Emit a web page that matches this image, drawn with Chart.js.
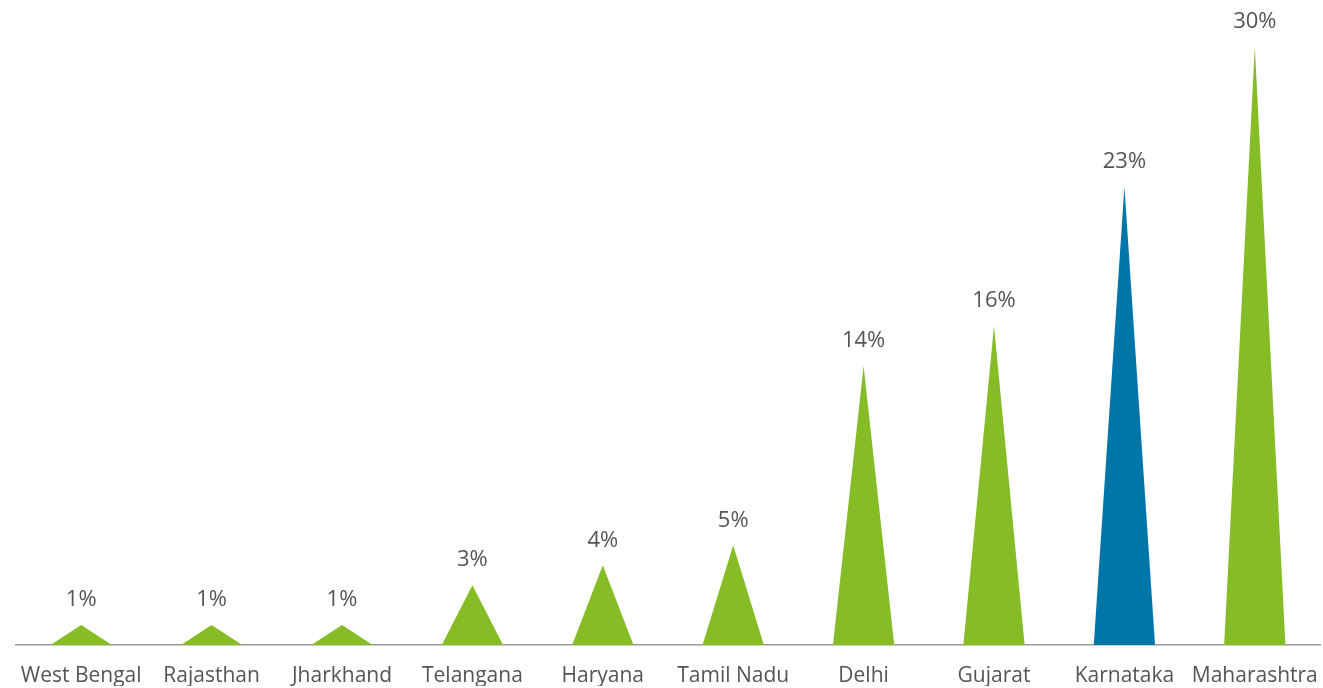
<!doctype html>
<html lang="en">
<head>
<meta charset="utf-8">
<title>Share by state</title>
<script src="https://cdn.jsdelivr.net/npm/chart.js@4/dist/chart.umd.min.js"></script>
<style>
  html, body { margin: 0; padding: 0; background: #fff; }
  .wrapper { width: 1323px; height: 688px; }
</style>
</head>
<body>
<div class="wrapper">
  <canvas id="canvas" width="1323" height="688"></canvas>
</div>
<script>
var states = ["West Bengal", "Rajasthan", "Jharkhand", "Telangana", "Haryana", "Tamil Nadu", "Delhi", "Gujarat", "Karnataka", "Maharashtra"];
var shares = [1, 1, 1, 3, 4, 5, 14, 16, 23, 30];
var highlight = "Karnataka";

var green = "#86BC25";
var blue = "#0076A8";
var colors = states.map(s => s === highlight ? blue : green);

// bars are laid out by chart.js but painted as triangles
var trianglePlugin = {
  id: "triangles",
  afterDatasetsDraw(chart) {
    var ctx = chart.ctx;
    var meta = chart.getDatasetMeta(0);
    ctx.save();
    meta.data.forEach((bar, i) => {
      var half = bar.width / 2;
      ctx.beginPath();
      ctx.moveTo(bar.x - half, bar.base);
      ctx.lineTo(bar.x, bar.y);
      ctx.lineTo(bar.x + half, bar.base);
      ctx.closePath();
      ctx.fillStyle = colors[i];
      ctx.fill();

      ctx.fillStyle = "#555";
      ctx.font = "22px 'Open Sans'";
      ctx.textAlign = "center";
      ctx.textBaseline = "middle";
      ctx.fillText(shares[i] + "%", bar.x, bar.y - 25);
    });
    ctx.restore();
  }
};

var ctx = document.getElementById("canvas").getContext("2d");
new Chart(ctx, {
  type: "bar",
  data: {
    labels: states,
    datasets: [{
      data: shares,
      backgroundColor: "rgba(0,0,0,0)",
      borderWidth: 0,
      categoryPercentage: 1,
      barPercentage: 0.47
    }]
  },
  options: {
    responsive: false,
    animation: false,
    layout: { padding: { left: 16, right: 3, top: 7, bottom: 2 } },
    plugins: {
      legend: { display: false },
      tooltip: { enabled: false }
    },
    scales: {
      x: {
        grid: { display: false, drawTicks: false },
        border: { display: true, color: "#9a9a9a", width: 1.5 },
        ticks: {
          color: "#555",
          padding: 18,
          maxRotation: 0,
          autoSkip: false,
          font: { family: "'Open Sans'", size: 21 }
        },
        afterFit(scale) {
          scale.height = 41;
          scale.paddingLeft = 0;
          scale.paddingRight = 0;
        }
      },
      y: {
        display: false,
        min: 0,
        max: 32
      }
    }
  },
  plugins: [trianglePlugin]
});
</script>
</body>
</html>
